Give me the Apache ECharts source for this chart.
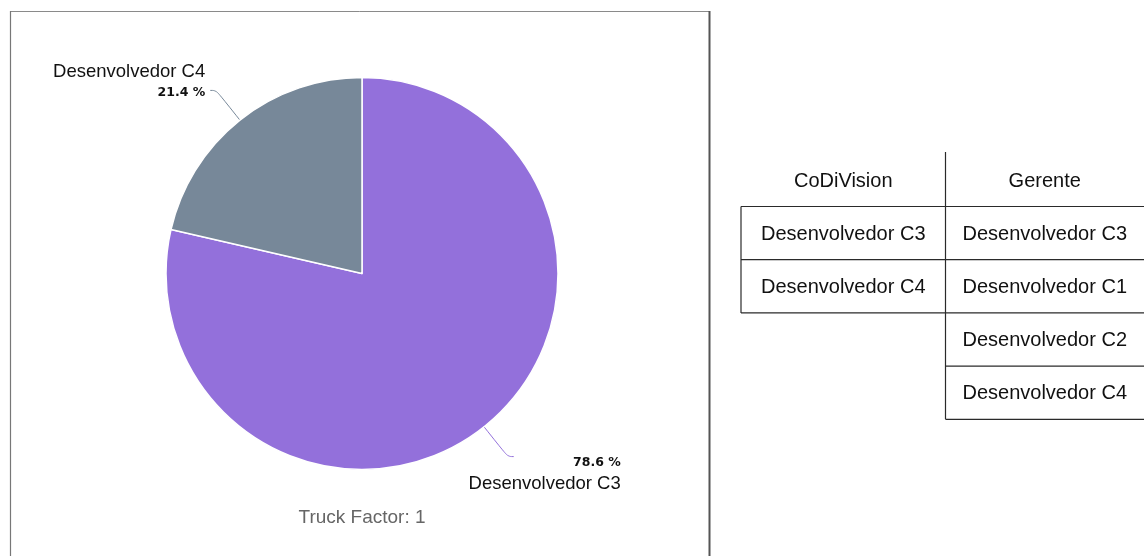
<!DOCTYPE html>
<html>
<head>
<meta charset="utf-8">
<script src="https://cdn.jsdelivr.net/npm/echarts@6/dist/echarts.min.js"></script>
<style>
  html, body { margin: 0; padding: 0; background: #fff; }
  #chart { width: 1144px; height: 556px; }
</style>
</head>
<body>
<div id="chart"></div>
<script>
// Share of knowledge per developer (percent)
const developers = ['Desenvolvedor C3', 'Desenvolvedor C4'];
const shares = [78.6, 21.4];
const sliceColors = ['#9370DB', '#778899'];
const truckFactor = 1;

// Comparison table: CoDiVision result vs. manager's list
const tableHeaders = ['CoDiVision', 'Gerente'];
const codivisionList = ['Desenvolvedor C3', 'Desenvolvedor C4'];
const managerList = ['Desenvolvedor C3', 'Desenvolvedor C1', 'Desenvolvedor C2', 'Desenvolvedor C4'];

const FONT = '"Liberation Sans", Arial, Helvetica, sans-serif';
const chart = echarts.init(document.getElementById('chart'));

// Table geometry
const tbl = { colX: [741, 945.5, 1144], headerTop: 152, headerBottom: 206.5, rowH: 53.2 };

function buildTable() {
  const els = [];
  const ls = { stroke: '#2a2a2a', lineWidth: 1.2 };
  const colCenter = c => (tbl.colX[c] + tbl.colX[c + 1]) / 2;
  const rowY = r => tbl.headerBottom + r * tbl.rowH;
  const hline = (x1, x2, y) => ({ type: 'line', shape: { x1: x1, y1: y, x2: x2, y2: y }, style: ls });
  const vline = (x, y1, y2) => ({ type: 'line', shape: { x1: x, y1: y1, x2: x, y2: y2 }, style: ls });

  tableHeaders.forEach((h, c) => {
    els.push({
      type: 'text', x: colCenter(c), y: (tbl.headerTop + tbl.headerBottom) / 2 + 2,
      style: { text: h, fill: '#111', font: '20px ' + FONT, align: 'center', verticalAlign: 'middle' }
    });
  });
  // column divider through the header and the longer column
  els.push(vline(tbl.colX[1], tbl.headerTop, rowY(managerList.length)));
  // left column border
  els.push(vline(tbl.colX[0], rowY(0), rowY(codivisionList.length)));
  // horizontal rules
  const maxRows = Math.max(codivisionList.length, managerList.length);
  for (let r = 0; r <= maxRows; r++) {
    const x1 = r <= codivisionList.length ? tbl.colX[0] : tbl.colX[1];
    els.push(hline(x1, tbl.colX[2], rowY(r)));
  }
  [codivisionList, managerList].forEach((list, c) => {
    list.forEach((name, r) => {
      els.push({
        type: 'text', x: colCenter(c), y: rowY(r) + tbl.rowH / 2 + 1,
        style: { text: name, fill: '#111', font: '20px ' + FONT, align: 'center', verticalAlign: 'middle' }
      });
    });
  });
  return els;
}

const frame = [
  { type: 'line', shape: { x1: 10.5, y1: 11.5, x2: 709, y2: 11.5 }, style: { stroke: '#8a8a8a', lineWidth: 1 } },
  { type: 'line', shape: { x1: 10.5, y1: 11, x2: 10.5, y2: 556 }, style: { stroke: '#777', lineWidth: 1.2 } },
  { type: 'line', shape: { x1: 709.5, y1: 11, x2: 709.5, y2: 556 }, style: { stroke: '#555', lineWidth: 2 } }
];

const data = developers.map((name, i) => ({
  name: name,
  value: shares[i],
  itemStyle: { color: sliceColors[i] },
  labelLine: { lineStyle: { color: sliceColors[i] } },
  label: {
    formatter: i === 0 ? '{p|{c} %}\n{n|{b}}' : '{n|{b}}\n{p|{c} %}',
    align: 'right'
  }
}));

chart.setOption({
  animation: false,
  backgroundColor: '#fff',
  graphic: frame.concat(buildTable(), [{
    type: 'text', x: 362, y: 518,
    style: {
      text: 'Truck Factor: ' + truckFactor, fill: '#666',
      font: '19px ' + FONT, align: 'center', verticalAlign: 'middle'
    }
  }]),
  series: [{
    type: 'pie',
    center: [362, 273.5],
    radius: [0, 196],
    startAngle: 90,
    clockwise: true,
    data: data,
    itemStyle: { borderColor: '#fff', borderWidth: 1.5 },
    label: {
      show: true,
      position: 'outside',
      fontFamily: FONT,
      rich: {
        n: { fontFamily: FONT, fontSize: 18.5, color: '#111', lineHeight: 21, align: 'right' },
        p: { fontFamily: '"DejaVu Sans", Verdana, sans-serif', fontSize: 12.5, fontWeight: 'bold', color: '#111', lineHeight: 21, align: 'right' }
      }
    },
    labelLine: { show: true, length: 38, length2: 6, smooth: 0.4, lineStyle: { width: 1 } },
    labelLayout: function (p) {
      const pts = p.labelLinePoints;
      if (!pts) return {};
      const keep = pts.map(q => [q[0], q[1]]);
      const end = keep[keep.length - 1];
      if (p.dataIndex === 0) {
        // label block sits below and to the right of the line end
        return { x: end[0] + 107, y: end[1] + 17, align: 'right', verticalAlign: 'middle', labelLinePoints: keep };
      }
      return { x: end[0] - 5, y: end[1] - 8, align: 'right', verticalAlign: 'middle', labelLinePoints: keep };
    }
  }]
});
</script>
</body>
</html>
